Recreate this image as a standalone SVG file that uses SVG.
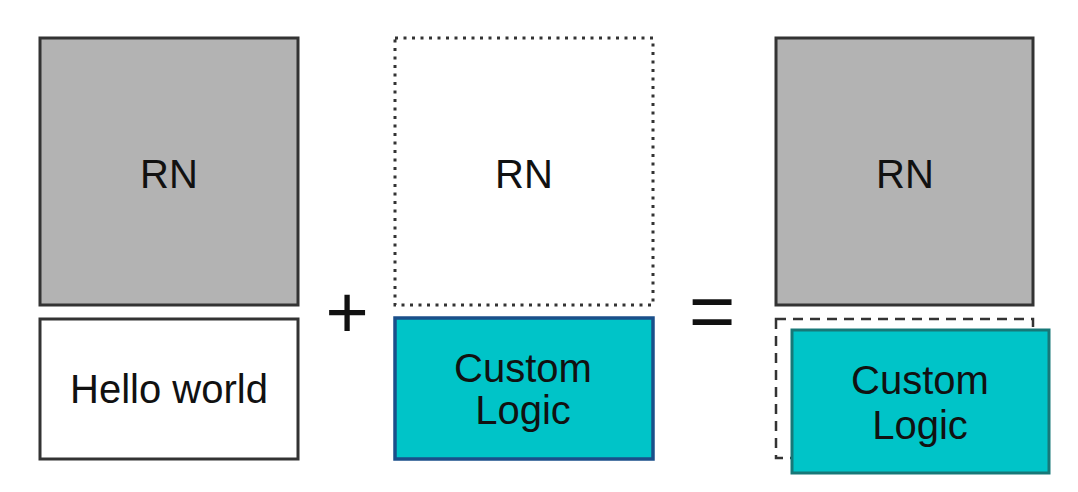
<svg xmlns="http://www.w3.org/2000/svg" width="1078" height="492" viewBox="0 0 1078 492">
<style>
.lbl{font-family:"Liberation Sans",Arial,sans-serif;font-size:40px;fill:#111;text-anchor:middle}
.op{font-family:"Liberation Sans",Arial,sans-serif;fill:#111;text-anchor:middle}
.gray{fill:#b3b3b3;stroke:#333;stroke-width:3}
.white{fill:#fff;stroke:#333;stroke-width:3}
.dotted{fill:#fff;stroke:#333;stroke-width:3;stroke-dasharray:3 5.5}
.dashed{fill:none;stroke:#333;stroke-width:2.5;stroke-dasharray:10 7}
.teal1{fill:#00c4c8;stroke:#1a4f8a;stroke-width:3.5}
.teal2{fill:#00c4c8;stroke:#177878;stroke-width:3}
</style>
<rect width="1078" height="492" fill="#fff"/>
<g id="rn1"><rect class="gray" x="40" y="38" width="258" height="267"/><text class="lbl" x="169" y="188">RN</text></g>
<g id="hello"><rect class="white" x="40" y="319" width="258" height="140"/><text class="lbl" x="169" y="403">Hello world</text></g>
<g id="plus"><text class="op" x="347" y="338" font-size="74">+</text></g>
<g id="rn2"><rect class="dotted" x="395" y="38" width="258" height="267"/><text class="lbl" x="524" y="188">RN</text></g>
<g id="logic1"><rect class="teal1" x="395" y="318" width="258" height="141"/><text class="lbl" x="523" y="382">Custom</text><text class="lbl" x="523" y="424">Logic</text></g>
<g id="equals"><text class="op" x="712" y="338" font-size="80">=</text></g>
<g id="rn3"><rect class="gray" x="776" y="38" width="257" height="267"/><text class="lbl" x="905" y="188">RN</text></g>
<g id="placeholder"><rect class="dashed" x="776" y="319" width="257" height="139"/></g>
<g id="logic2"><rect class="teal2" x="792" y="330" width="257" height="143"/><text class="lbl" x="920" y="394">Custom</text><text class="lbl" x="920" y="439">Logic</text></g>
<g id="connectors"></g>
</svg>
